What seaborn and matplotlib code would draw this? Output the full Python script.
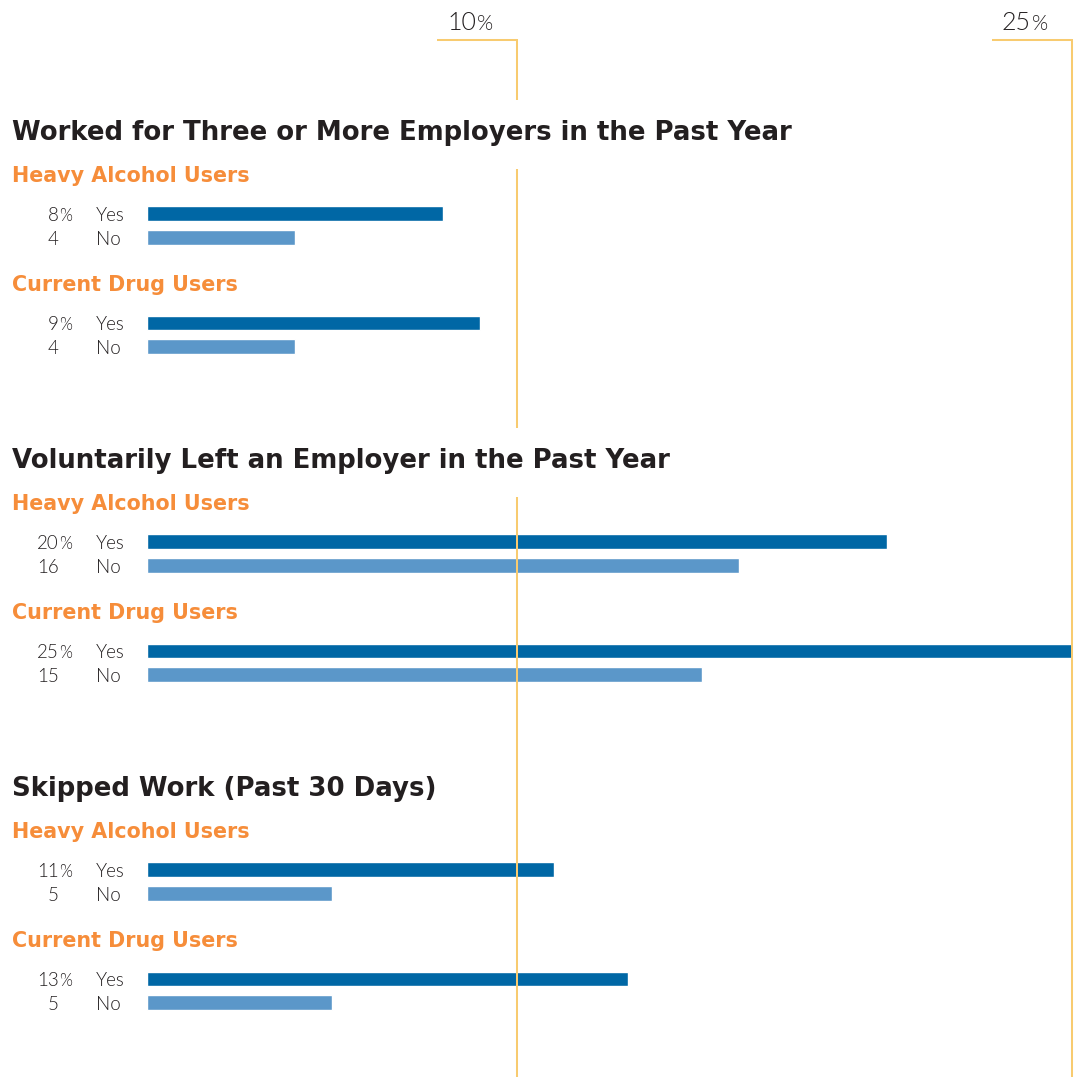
import matplotlib
matplotlib.use("Agg")
import matplotlib.pyplot as plt
import seaborn as sns
import pandas as pd

# ---- data -------------------------------------------------------------
section_titles = [
    "Worked for Three or More Employers in the Past Year",
    "Voluntarily Left an Employer in the Past Year",
    "Skipped Work (Past 30 Days)",
]
group_names = ["Heavy Alcohol Users", "Current Drug Users"]
answer_labels = ["Yes", "No"]

alcohol_yes = [8, 20, 11]
alcohol_no = [4, 16, 5]
drug_yes = [9, 25, 13]
drug_no = [4, 15, 5]

tick_values = [10, 25]

# ---- styling / layout ---------------------------------------------------
DARK = "#231F20"
ORANGE = "#F68D3A"
YES_BLUE = "#0067A5"
NO_BLUE = "#5B97C9"
GRID = "#F8CB70"
HEAVY_FONT = ["DejaVu Sans"]
LIGHT_FONT = ["Lato", "DejaVu Sans"]
LABEL_WEIGHT = 300

W, H = 1075, 1077
X0_PX = 147.0          # pixel where 0% starts
PX_PER_PCT = 37.0      # pixels per percentage point

def px(xp):
    """Horizontal pixel position -> data units (percent)."""
    return (xp - X0_PX) / PX_PER_PCT

section_base = [139.5, 467.5, 795.5]      # baseline of each section title
sub_offsets = [42.0, 151.5]               # subtitle baselines
bar_offsets = [[74.0, 98.0], [183.5, 207.0]]  # bar centres (Yes, No)

sns.set_theme(style="white")
plt.rcParams["font.family"] = LIGHT_FONT

fig = plt.figure(figsize=(W / 100, H / 100), dpi=100)
fig.patch.set_facecolor("white")
ax = fig.add_axes([0, 0, 1, 1])

# ---- bars ---------------------------------------------------------------
rows = []
for s in range(3):
    vals = [[alcohol_yes[s], alcohol_no[s]], [drug_yes[s], drug_no[s]]]
    for g in range(2):
        for a in range(2):
            rows.append({
                "section": s,
                "group": group_names[g],
                "answer": answer_labels[a],
                "value": vals[g][a],
                "ypos": section_base[s] + bar_offsets[g][a],
            })
df = pd.DataFrame(rows)

sns.barplot(
    data=df, x="value", y="ypos", hue="answer", orient="y",
    native_scale=True, dodge=False, width=0.62, saturation=1,
    palette={"Yes": YES_BLUE, "No": NO_BLUE}, legend=False,
    errorbar=None, ax=ax, zorder=2,
)

ax.set_xlim(px(0), px(W))
ax.set_ylim(H, 0)
ax.set_axis_off()

# ---- text ---------------------------------------------------------------
for s, title in enumerate(section_titles):
    yb = section_base[s]
    ax.text(px(12), yb, title, fontsize=18.7, fontweight="bold", color=DARK,
            va="baseline", ha="left", family=HEAVY_FONT)
    for g, gname in enumerate(group_names):
        ax.text(px(12), yb + sub_offsets[g], gname, fontsize=14.9,
                fontweight="bold", color=ORANGE, va="baseline", ha="left",
                family=HEAVY_FONT)
        sub = df[(df["section"] == s) & (df["group"] == gname)]
        for _, r in sub.iterrows():
            base = r["ypos"] + 7.5
            ax.text(px(58.5), base, f"{r['value']:g}", fontsize=13.5,
                    fontweight=LABEL_WEIGHT, color=DARK, va="baseline",
                    ha="right")
            if r["answer"] == "Yes":
                ax.text(px(59.5), base, "%", fontsize=12,
                        fontweight=LABEL_WEIGHT, color=DARK, va="baseline",
                        ha="left")
            ax.text(px(96), base, r["answer"], fontsize=13.5,
                    fontweight=LABEL_WEIGHT, color=DARK, va="baseline",
                    ha="left")

# ---- reference lines with top brackets ---------------------------------
fig.canvas.draw()
renderer = fig.canvas.get_renderer()
title_right = []
for t in ax.texts[:]:
    if t.get_text() in section_titles:
        bb = t.get_window_extent(renderer)
        title_right.append((t.get_position()[1], bb.x1))

LW = 1.45
for v in tick_values:
    xpix = X0_PX + v * PX_PER_PCT
    # bracket + label
    ax.plot([v - 80 / PX_PER_PCT, v], [40, 40], color=GRID, lw=LW,
            solid_capstyle="butt", zorder=3)
    ax.text(v - 41 / PX_PER_PCT, 30, f"{v:g}", fontsize=18,
            fontweight=LABEL_WEIGHT, color=DARK, ha="right", va="baseline")
    ax.text(v - 40 / PX_PER_PCT, 30, "%", fontsize=15,
            fontweight=LABEL_WEIGHT, color=DARK, ha="left", va="baseline")
    # vertical line, broken where a section title runs across it
    gaps = sorted((yb - 40, yb + 29) for yb, right in title_right
                  if right > xpix - 6)
    start = 39
    segments = []
    for g0, g1 in gaps:
        segments.append((start, g0))
        start = g1
    segments.append((start, H))
    for y0, y1 in segments:
        ax.plot([v, v], [y0, y1], color=GRID, lw=LW,
                solid_capstyle="butt", zorder=3)

fig.savefig("out.png", dpi=100, facecolor="white")
